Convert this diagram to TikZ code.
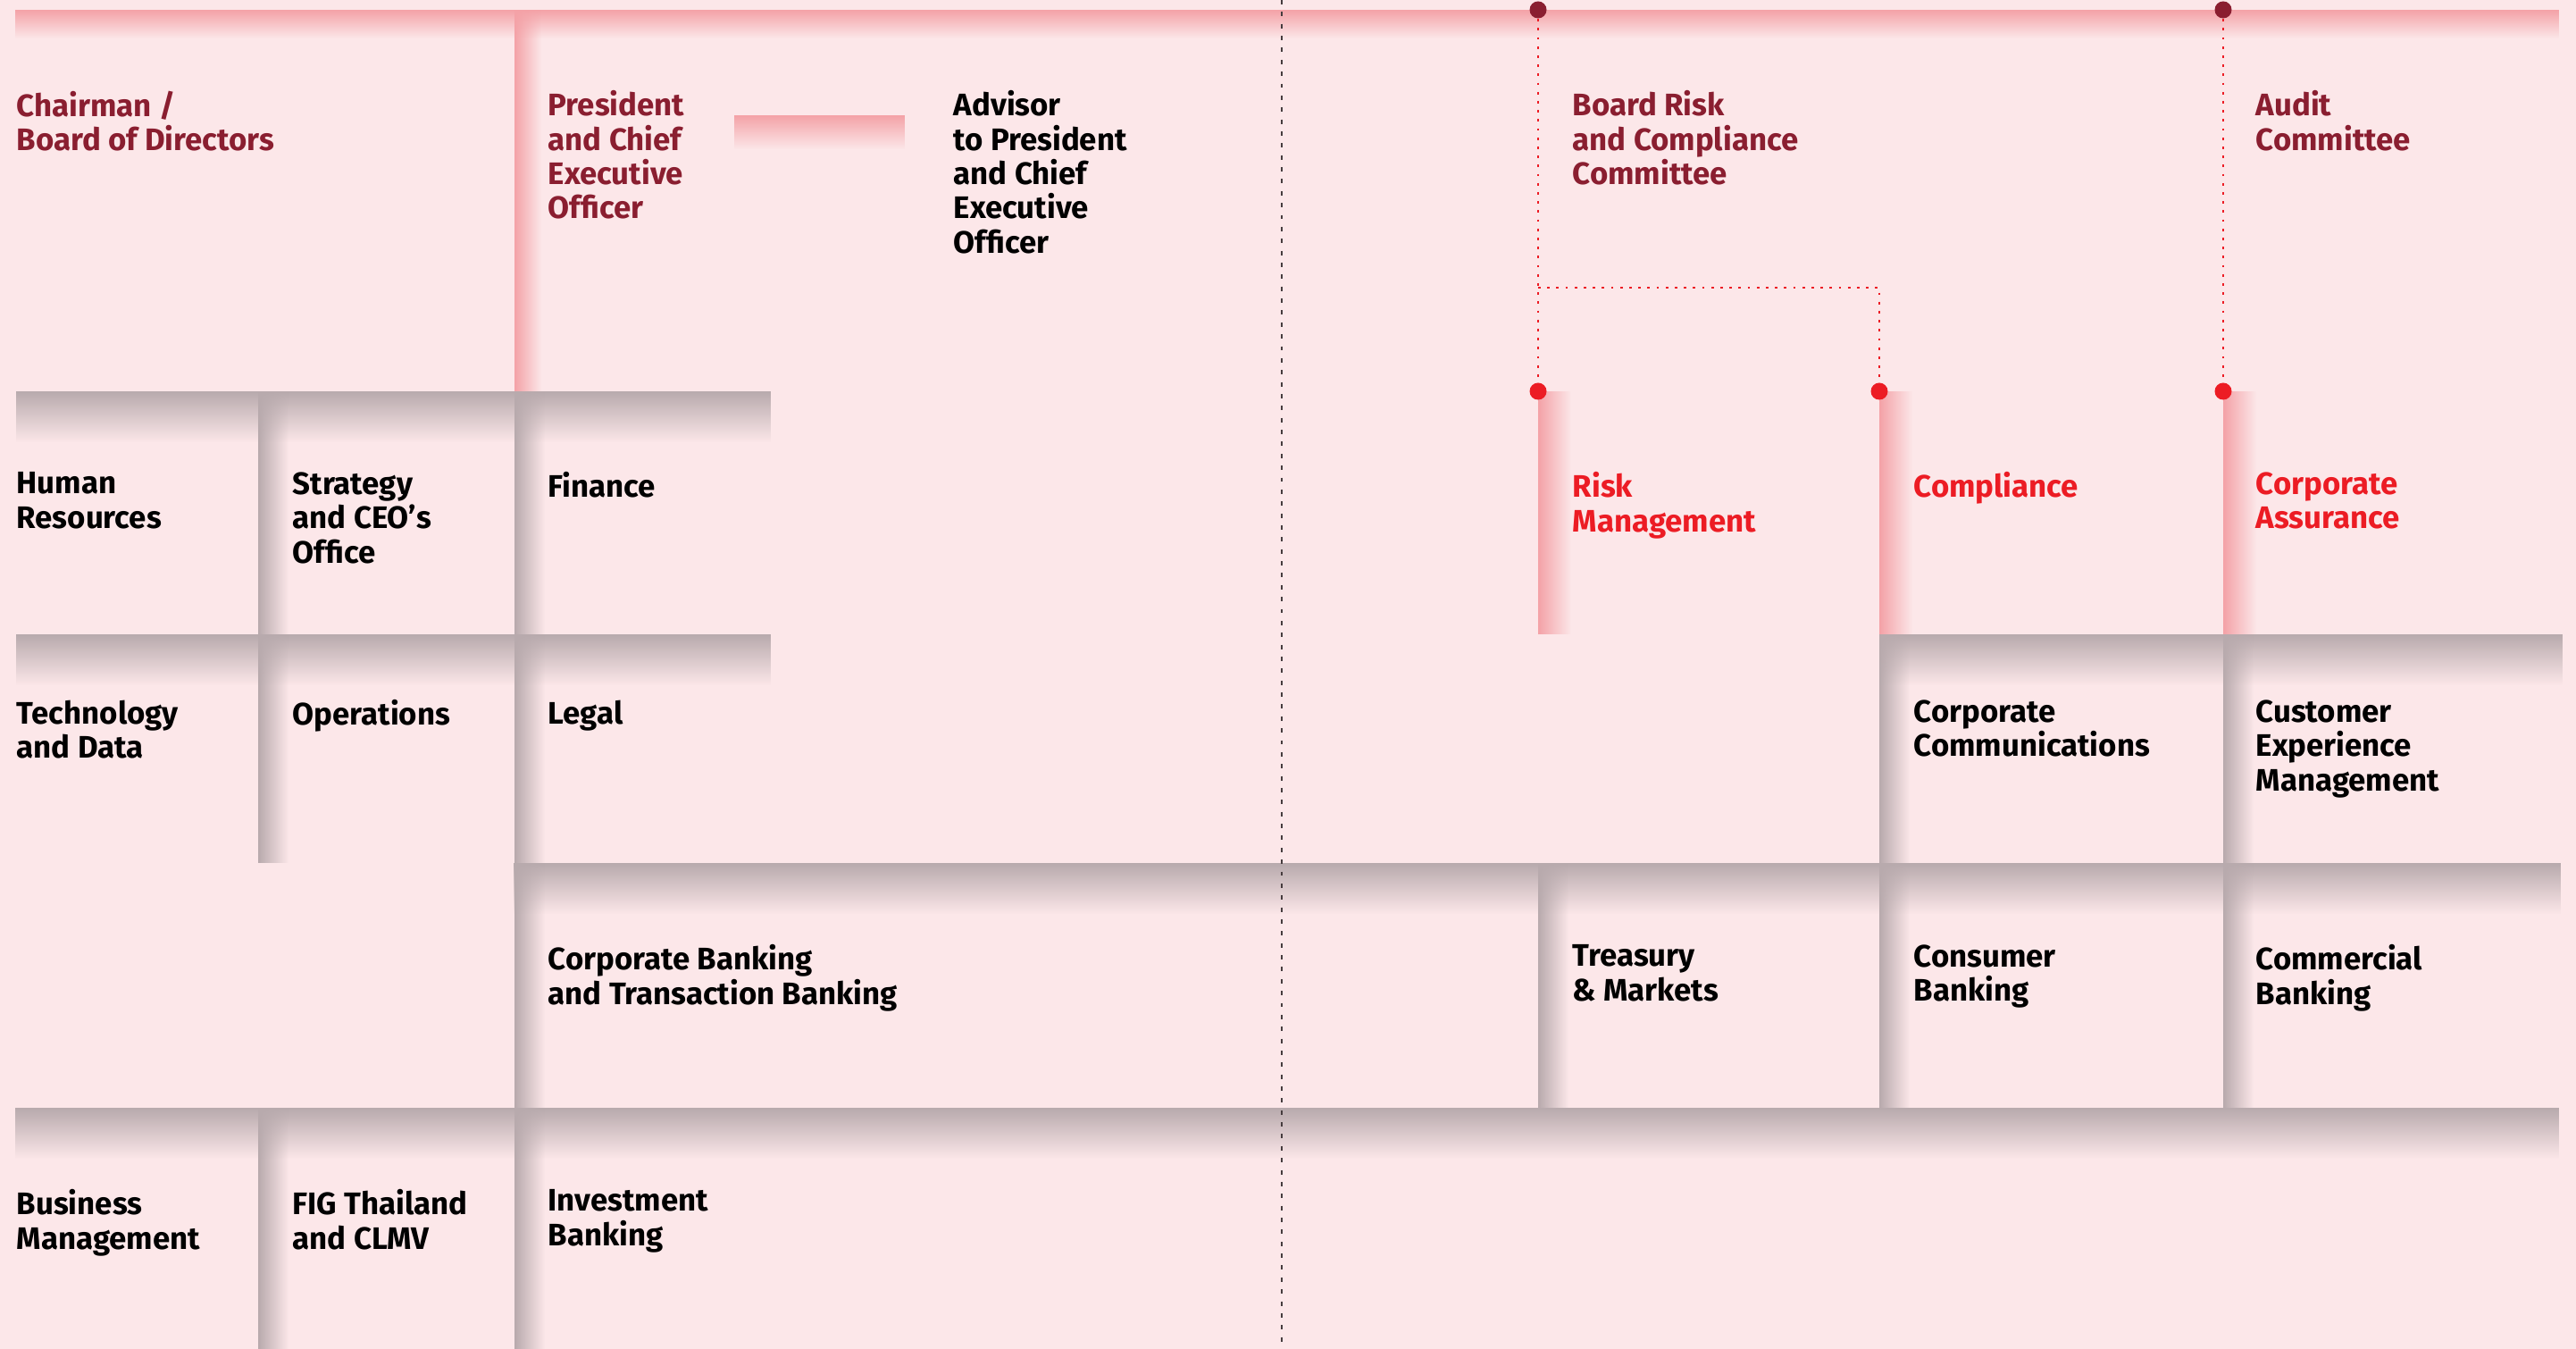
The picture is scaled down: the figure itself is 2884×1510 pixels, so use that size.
\documentclass[tikz,border=0pt]{standalone}
\usepackage{fontspec}
\setsansfont{Fira Sans}
\usetikzlibrary{fadings}
\definecolor{bgpink}{RGB}{252,231,233}
\definecolor{shgray}{RGB}{184,170,173}
\definecolor{shred}{RGB}{244,162,167}
\definecolor{txtdark}{RGB}{138,30,48}
\definecolor{txtred}{RGB}{236,28,36}
\definecolor{sepgray}{RGB}{70,60,62}
\tikzfading[name=fade down, top color=transparent!0, middle color=transparent!60, bottom color=transparent!100]
\tikzfading[name=fade right, left color=transparent!0, middle color=transparent!60, right color=transparent!100]

\begin{document}
\begin{tikzpicture}[x=0.01cm, y=-0.01cm,
    lbl/.style={anchor=north west, inner sep=0pt, align=left, font=\sffamily\bfseries\fontsize{9.9}{10.9}\selectfont, execute at begin node=\vphantom{Ald}},
    board/.style={lbl, text=txtdark},
    ctrl/.style={lbl, text=txtred},
    unit/.style={lbl, text=black},
    grayhead/.style={fill=shgray, path fading=fade down},
    grayside/.style={fill=shgray, path fading=fade right},
    redhead/.style={fill=shred, path fading=fade down},
    redside/.style={fill=shred, path fading=fade right},
    dot/.style={circle, inner sep=0pt, minimum size=0.19cm, fill=txtred},
    topdot/.style={dot, fill=txtdark},
    link/.style={txtred, line width=0.8pt, dash pattern=on 0.8pt off 2.1pt},
    divider/.style={sepgray, line width=0.35pt, dash pattern=on 1.4pt off 2.4pt}
]
  \useasboundingbox (0,0) rectangle (2884,1510);
  \fill[bgpink] (0,0) rectangle (2884,1510);

  % board level
  \fill[redhead] (18,11) rectangle (2869,43);
  \fill[redside] (576,11) rectangle (606,438);
  \fill[redhead] (822,129) rectangle (1013,167);
  \fill[redside] (1722,438) rectangle (1759,710);
  \fill[redside] (2104,438) rectangle (2141,710);
  \fill[redside] (2489,438) rectangle (2526,710);

  % support functions
  \fill[grayhead] (18,438) rectangle (863,495);
  \fill[grayside] (289,438) rectangle (323,710);
  \fill[grayside] (576,438) rectangle (610,710);
  \fill[grayhead] (18,710) rectangle (863,767);
  \fill[grayside] (289,710) rectangle (323,966);
  \fill[grayside] (576,710) rectangle (610,966);
  \fill[grayhead] (2104,710) rectangle (2869,767);
  \fill[grayside] (2104,710) rectangle (2138,966);
  \fill[grayside] (2489,710) rectangle (2523,966);

  % business units
  \fill[grayhead] (576,966) rectangle (2869,1023);
  \fill[grayside] (576,966) rectangle (610,1240);
  \fill[grayside] (1722,966) rectangle (1756,1240);
  \fill[grayside] (2104,966) rectangle (2138,1240);
  \fill[grayside] (2489,966) rectangle (2523,1240);
  \fill[grayhead] (18,1240) rectangle (2869,1297);
  \fill[grayside] (289,1240) rectangle (323,1510);
  \fill[grayside] (576,1240) rectangle (610,1510);

  % committees
  \node[topdot] (brcdot) at (1722,11) {};
  \node[topdot] (auddot) at (2489,11) {};
  \node[dot] (riskdot) at (1722,438) {};
  \node[dot] (compdot) at (2104,438) {};
  \node[dot] (assurdot) at (2489,438) {};
  \coordinate (brcsplit) at (1722,322);
  \draw[link] (brcdot.south) -- (riskdot.north);
  \draw[link] (brcsplit) -| (compdot.north);
  \draw[link] (auddot.south) -- (assurdot.north);

  \node[board] (chair) at (18,101) {Chairman /\\Board of Directors};
  \node[board] (pres) at (613,101) {President\\and Chief\\Executive\\Officer};
  \node[unit] (adv) at (1067,101) {Advisor\\to President\\and Chief\\Executive\\Officer};
  \node[board] (brc) at (1760,101) {Board Risk\\and Compliance\\Committee};
  \node[board] (audit) at (2525,101) {Audit\\Committee};

  \node[unit] (hr) at (18,528) {Human\\Resources};
  \node[unit] (strat) at (327,528) {Strategy\\and CEO’s\\Office};
  \node[unit] (fin) at (613,528) {Finance};
  \node[ctrl] (risk) at (1760,528) {Risk\\Management};
  \node[ctrl] (comp) at (2142,528) {Compliance};
  \node[ctrl] (assur) at (2525,528) {Corporate\\Assurance};

  \node[unit] (tech) at (18,783) {Technology\\and Data};
  \node[unit] (ops) at (327,783) {Operations};
  \node[unit] (legal) at (613,783) {Legal};
  \node[unit] (comms) at (2142,783) {Corporate\\Communications};
  \node[unit] (cxm) at (2525,783) {Customer\\Experience\\Management};

  \node[unit] (cbtb) at (613,1057) {Corporate Banking\\and Transaction Banking};
  \node[unit] (treas) at (1760,1057) {Treasury\\\& Markets};
  \node[unit] (cons) at (2142,1057) {Consumer\\Banking};
  \node[unit] (comm) at (2525,1057) {Commercial\\Banking};

  \node[unit] (bm) at (18,1331) {Business\\Management};
  \node[unit] (fig) at (327,1331) {FIG Thailand\\and CLMV};
  \node[unit] (ib) at (613,1331) {Investment\\Banking};

  \coordinate (septop) at (1435,0);
  \coordinate (sepbot) at (1435,1510);
  \draw[divider] (septop) -- (sepbot);
\end{tikzpicture}
\end{document}
